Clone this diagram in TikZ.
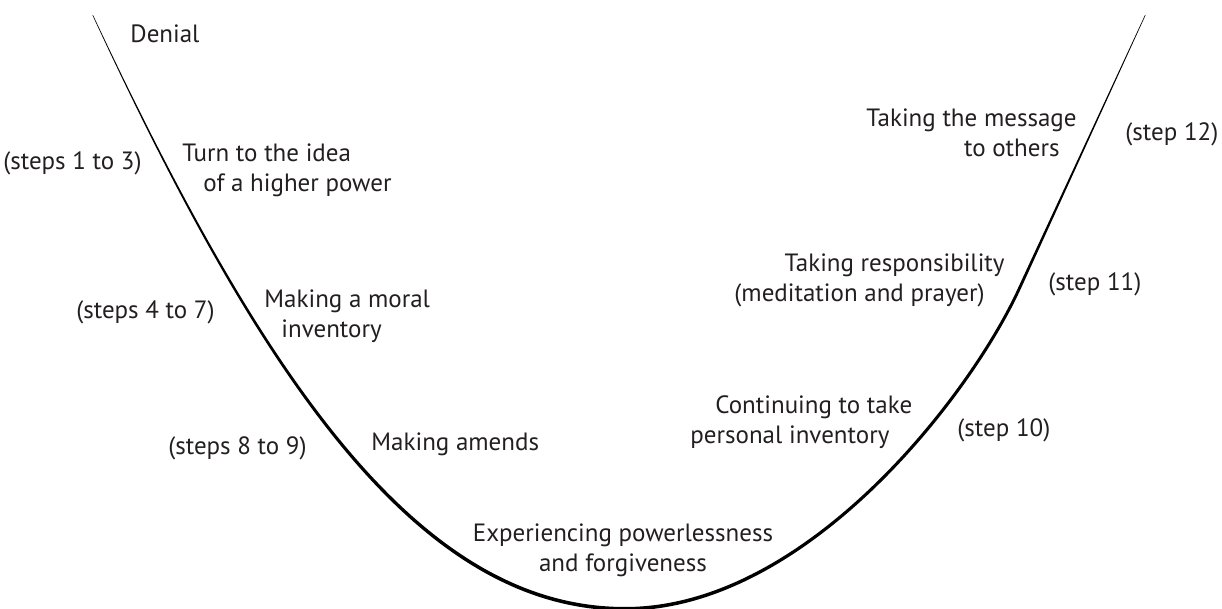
\documentclass[tikz,border=0pt]{standalone}
\usepackage{fontspec}
\setmainfont{PT Sans}
\definecolor{ink}{HTML}{231F20}
\tikzset{
	stage/.style={font=\fontsize{12.5}{15}\selectfont,text=ink,inner sep=0pt},
	stepno/.style={stage},
	valley/.style={fill=black}
}

\begin{document}
\begin{tikzpicture}[x=0.5pt,y=-0.5pt]
	\useasboundingbox (0,0) rectangle (1222,609);
	% the valley: hairline at both rims, heavier towards the bottom
	\fill[valley] (93,15) .. controls (265,380) and (420,607) .. (625,607)
		.. controls (805,607) and (967.6,396.8) .. (1018,288) -- (1145,15)
		-- (1145.5,15.3) -- (1020.5,289.4)
		.. controls (970.5,398.4) and (806,610.6) .. (625,610.6)
		.. controls (418,610.6) and (261.8,381.6) .. (92.5,15.3) -- cycle;
	% stages down the left side
	\node[stage,anchor=base west] (den) at (130,43) {Denial};
	\node[stepno,anchor=base east] (s13) at (142,170) {(steps 1 to 3)};
	\node[stage,anchor=base west,align=left] (power) at (182,192) {Turn to the idea\\\hspace*{10.5pt}of a higher power};
	\node[stepno,anchor=base east] (s47) at (215,319) {(steps 4 to 7)};
	\node[stage,anchor=base west,align=left] (moral) at (264,338) {Making a moral\\\hspace*{8.5pt}inventory};
	\node[stepno,anchor=base east] (s89) at (307,455) {(steps 8 to 9)};
	\node[stage,anchor=base west] (amends) at (371,451) {Making amends};
	% bottom
	\node[stage,anchor=base,align=center] (forgive) at (623,571) {Experiencing powerlessness\\and forgiveness};
	% and back up the right side
	\node[stage,anchor=base west,align=left] (take) at (690,444) {\hspace*{12.5pt}Continuing to take\\personal inventory};
	\node[stepno,anchor=base west] (s10) at (957,437) {(step 10)};
	\node[stage,anchor=base east,align=right] (resp) at (1005,302) {Taking responsibility\\(meditation and prayer)\hspace*{10pt}};
	\node[stepno,anchor=base west] (s11) at (1048,291) {(step 11)};
	\node[stage,anchor=base east,align=right] (msg) at (1077,157) {Taking the message\\to others\hspace*{8.5pt}};
	\node[stepno,anchor=base west] (s12) at (1125,141) {(step 12)};
\end{tikzpicture}
\end{document}
